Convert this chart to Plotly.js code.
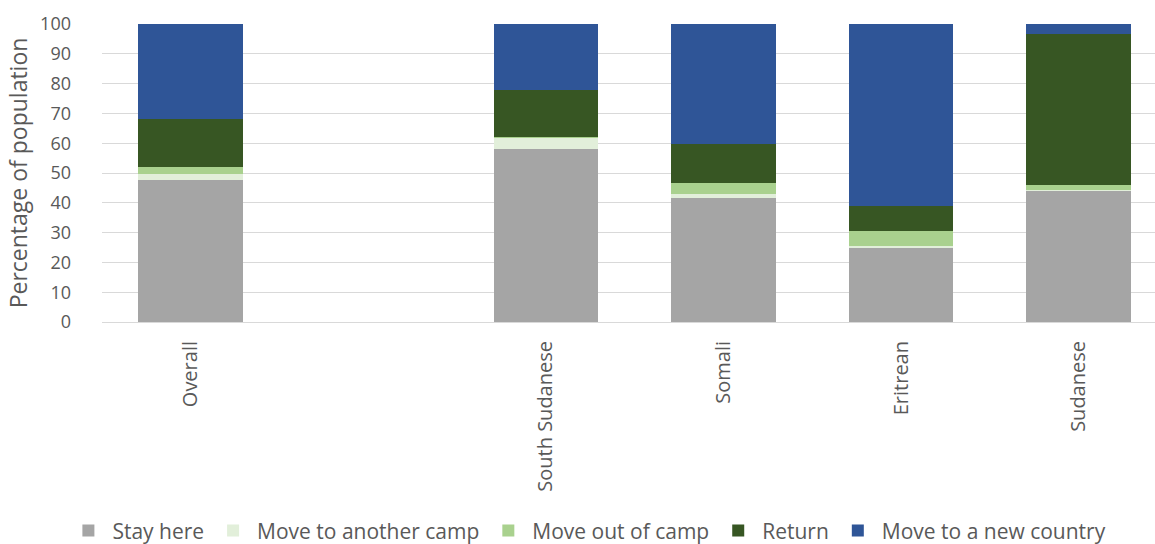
<!DOCTYPE html>
<html>
<head>
<meta charset="utf-8">
<script src="https://cdn.plot.ly/plotly-3.0.1.min.js"></script>
<style>html,body{margin:0;padding:0;background:#fff;}#chart{width:1155px;height:544px;}</style>
</head>
<body>
<div id="chart"></div>
<script>
var categories = ["Overall", " ", "South Sudanese", "Somali", "Eritrean", "Sudanese"];
var stayHere = [47.6, null, 58.1, 41.5, 24.9, 43.9];
var anotherCamp = [2.0, null, 3.5, 1.3, 0.5, 0.3];
var outOfCamp = [2.4, null, 0.4, 3.7, 5.3, 1.7];
var returnHome = [16.2, null, 15.7, 13.3, 8.2, 50.7];
var newCountry = [31.8, null, 22.3, 40.2, 61.1, 3.4];
var seriesNames = ["Stay here", "Move to another camp", "Move out of camp", "Return", "Move to a new country"];
var seriesColors = ["#a5a5a5", "#e2efda", "#a9d18e", "#375623", "#2f5597"];
var seriesValues = [stayHere, anotherCamp, outOfCamp, returnHome, newCountry];

var traces = seriesValues.map(function (vals, i) {
  return {
    type: "bar",
    name: seriesNames[i],
    x: categories,
    y: vals,
    marker: { color: seriesColors[i], line: { width: 0 } },
    hoverinfo: "name+y"
  };
});

var fontFam = "'Open Sans', sans-serif";
var layout = {
  width: 1155,
  height: 544,
  margin: { l: 102, r: 0, t: 24, b: 222 },
  barmode: "stack",
  bargap: 0.41,
  paper_bgcolor: "#ffffff",
  plot_bgcolor: "#ffffff",
  font: { family: fontFam, color: "#595959", size: 16 },
  showlegend: true,
  legend: {
    orientation: "h",
    xref: "container",
    yref: "container",
    x: 0.509,
    xanchor: "center",
    y: 0.024,
    yanchor: "middle",
    font: { size: 21, color: "#595959" },
    traceorder: "normal",
    itemwidth: 38
  },
  xaxis: {
    type: "category",
    categoryorder: "array",
    categoryarray: categories,
    range: [-0.5, 5.43],
    tickangle: -90,
    ticks: "",
    ticklabelstandoff: 10,
    tickfont: { size: 20, color: "#595959" },
    showgrid: false,
    showline: true,
    linecolor: "#d9d9d9",
    linewidth: 1,
    zeroline: false,
    fixedrange: true
  },
  yaxis: {
    range: [0, 100],
    tickvals: [0, 10, 20, 30, 40, 50, 60, 70, 80, 90, 100],
    ticks: "",
    ticklabelstandoff: 30,
    tickfont: { size: 18, color: "#595959" },
    showgrid: true,
    gridcolor: "#d9d9d9",
    gridwidth: 1,
    zeroline: false,
    showline: false,
    title: { text: "Percentage of population", font: { size: 23, color: "#595959" }, standoff: 6 },
    automargin: false,
    fixedrange: true
  }
};

Plotly.newPlot("chart", traces, layout, { displayModeBar: false, staticPlot: true });
</script>
</body>
</html>
